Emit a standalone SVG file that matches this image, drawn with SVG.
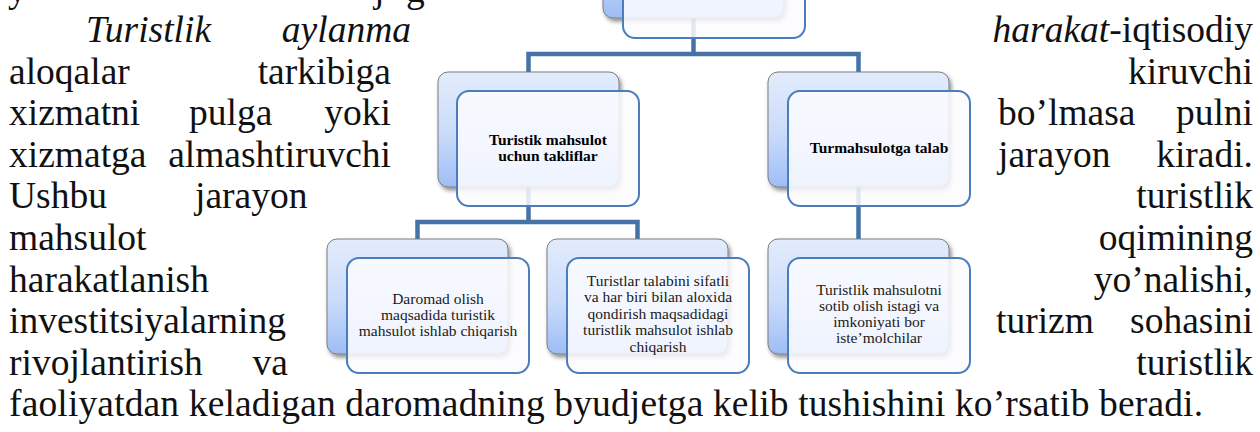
<svg xmlns="http://www.w3.org/2000/svg" width="1260" height="432" viewBox="0 0 1260 432">
  <defs>
    <linearGradient id="backFill" x1="0" y1="0" x2="0" y2="1">
      <stop offset="0" stop-color="#e3ecfc"/>
      <stop offset="0.55" stop-color="#c9dbfb"/>
      <stop offset="1" stop-color="#9ebdf6"/>
    </linearGradient>
    <filter id="shadow" x="-10%" y="-10%" width="125%" height="130%">
      <feDropShadow dx="2" dy="3" stdDeviation="2" flood-color="#000" flood-opacity="0.45"/>
    </filter>
  </defs>
  <style>
    .body { font-family: "Liberation Serif", "Times New Roman", serif; font-size: 37.5px; fill: #111; }
    .it { font-style: italic; }
    .end { text-anchor: end; }
    .back { fill: url(#backFill); stroke: #7d7d7d; stroke-width: 1; filter: url(#shadow); }
    .front { fill: #fbfcff; fill-opacity: 0.86; stroke: #4a7ebb; stroke-width: 2; }
    .label { font-family: "Liberation Serif", "Times New Roman", serif; font-size: 15.5px; fill: #1a1a1a; text-anchor: middle; }
    .bold { font-weight: bold; fill: #000; }
    .conn { fill: none; stroke: #4672a7; stroke-width: 4.5; stroke-linejoin: miter; stroke-linecap: butt; }
  </style>

  <rect width="1260" height="432" fill="#ffffff"/>

  <!-- running paragraph text, justified around the chart -->
  <g id="paragraph">
    <text class="body" y="2"><tspan x="8">y</tspan><tspan x="374">j</tspan><tspan x="406">g</tspan></text>

    <text class="body it" x="86" y="42">Turistlik</text>
    <text class="body it end" x="411" y="42">aylanma</text>
    <text class="body end" x="1253" y="42"><tspan class="it">harakat</tspan>-iqtisodiy</text>

    <text class="body" x="9" y="84">aloqalar</text>
    <text class="body end" x="391" y="84">tarkibiga</text>
    <text class="body end" x="1253" y="84">kiruvchi</text>

    <text class="body" x="9" y="125">xizmatni</text>
    <text class="body" x="189" y="125">pulga</text>
    <text class="body end" x="391" y="125">yoki</text>
    <text class="body" x="998" y="125">bo’lmasa</text>
    <text class="body end" x="1253" y="125">pulni</text>

    <text class="body" x="9" y="167">xizmatga</text>
    <text class="body end" x="391" y="167">almashtiruvchi</text>
    <text class="body" x="998" y="167">jarayon</text>
    <text class="body end" x="1253" y="167">kiradi.</text>

    <text class="body" x="9" y="208">Ushbu</text>
    <text class="body" x="195" y="208">jarayon</text>
    <text class="body end" x="1253" y="208">turistlik</text>

    <text class="body" x="9" y="250">mahsulot</text>
    <text class="body end" x="1253" y="250">oqimining</text>

    <text class="body" x="9" y="292">harakatlanish</text>
    <text class="body end" x="1253" y="292">yo’nalishi,</text>

    <text class="body" x="9" y="333">investitsiyalarning</text>
    <text class="body" x="996" y="333">turizm</text>
    <text class="body end" x="1253" y="333">sohasini</text>

    <text class="body" x="9" y="375">rivojlantirish</text>
    <text class="body end" x="288" y="375">va</text>
    <text class="body end" x="1253" y="375">turistlik</text>

    <text class="body" x="9" y="416" textLength="1194" lengthAdjust="spacing">faoliyatdan keladigan daromadning byudjetga kelib tushishini ko’rsatib beradi.</text>
  </g>

  <!-- tree connectors -->
  <g id="connectors">
    <path class="conn" d="M693.5,18 V54"/>
    <path class="conn" d="M528.5,72 V54 H858.5 V72"/>
    <path class="conn" d="M528.5,187 V222"/>
    <path class="conn" d="M417.5,239 V222 H637.5 V239"/>
    <path class="conn" d="M858.5,187 V239"/>
  </g>

  <!-- root node (upper part outside the view) -->
  <g id="node-root">
    <rect class="back" x="603" y="-97" width="181" height="115" rx="10"/>
    <rect class="front" x="623" y="-78" width="182" height="116" rx="12"/>
  </g>

  <g id="node-offer">
    <rect class="back" x="438" y="72" width="181" height="115" rx="10"/>
    <rect class="front" x="457" y="91" width="182" height="115" rx="12"/>
    <text class="label bold" x="548" y="145">Turistik mahsulot</text>
    <text class="label bold" x="548" y="161">uchun takliflar</text>
  </g>

  <g id="node-demand">
    <rect class="back" x="768" y="72" width="181" height="115" rx="10"/>
    <rect class="front" x="788" y="91" width="182" height="115" rx="12"/>
    <text class="label bold" x="879" y="153">Turmahsulotga talab</text>
  </g>

  <g id="node-income">
    <rect class="back" x="327" y="239" width="181" height="115" rx="10"/>
    <rect class="front" x="347" y="258" width="182" height="115" rx="12"/>
    <text class="label" x="438" y="304">Daromad olish</text>
    <text class="label" x="438" y="320">maqsadida turistik</text>
    <text class="label" x="438" y="336">mahsulot ishlab chiqarish</text>
  </g>

  <g id="node-quality">
    <rect class="back" x="547" y="239" width="181" height="115" rx="10"/>
    <rect class="front" x="567" y="258" width="182" height="115" rx="12"/>
    <text class="label" x="658" y="286">Turistlar talabini sifatli</text>
    <text class="label" x="658" y="302.4">va har biri bilan aloxida</text>
    <text class="label" x="658" y="318.8">qondirish maqsadidagi</text>
    <text class="label" x="658" y="335.2">turistlik mahsulot ishlab</text>
    <text class="label" x="658" y="351.6">chiqarish</text>
  </g>

  <g id="node-consumers">
    <rect class="back" x="768" y="239" width="181" height="115" rx="10"/>
    <rect class="front" x="788" y="258" width="182" height="115" rx="12"/>
    <text class="label" x="879" y="295">Turistlik mahsulotni</text>
    <text class="label" x="879" y="311">sotib olish istagi va</text>
    <text class="label" x="879" y="327">imkoniyati bor</text>
    <text class="label" x="879" y="343">iste’molchilar</text>
  </g>
</svg>
